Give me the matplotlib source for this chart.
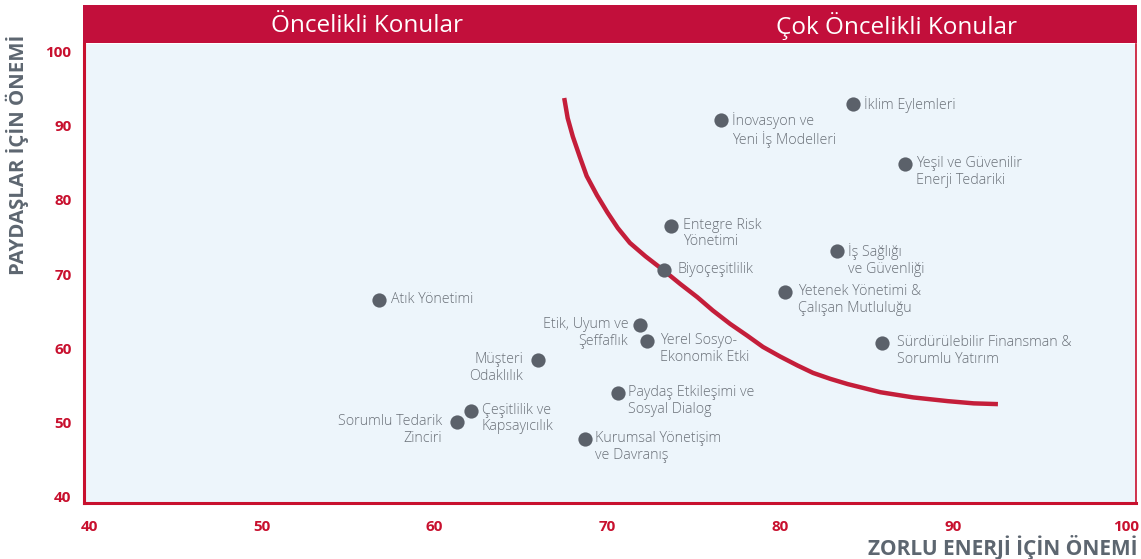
import matplotlib.pyplot as plt

# topics: x = importance for Zorlu Enerji, y = importance for stakeholders
topics = ['İklim Eylemleri', 'İnovasyon ve\nYeni İş Modelleri', 'Yeşil ve Güvenilir\nEnerji Tedariki',
          'Entegre Risk\nYönetimi', 'İş Sağlığı\nve Güvenliği', 'Biyoçeşitlilik',
          'Yetenek Yönetimi &\nÇalışan Mutluluğu', 'Atık Yönetimi', 'Etik, Uyum ve\nŞeffaflık',
          'Yerel Sosyo-\nEkonomik Etki', 'Sürdürülebilir Finansman &\nSorumlu Yatırım',
          'Müşteri\nOdaklılık', 'Paydaş Etkileşimi ve\nSosyal Dialog', 'Çeşitlilik ve\nKapsayıcılık',
          'Sorumlu Tedarik\nZinciri', 'Kurumsal Yönetişim\nve Davranış']
zorlu = [84.2, 76.6, 87.2, 73.7, 83.3, 73.3, 80.3, 56.8, 71.9, 72.3, 85.9, 66.0, 70.6, 62.1, 61.3, 68.7]
paydas = [92.9, 90.7, 84.8, 76.5, 73.1, 70.6, 67.6, 66.5, 63.1, 61.0, 60.7, 58.4, 54.0, 51.6, 50.1, 47.8]

# threshold curve
curve_x = [67.5, 67.7, 68.0, 68.4, 68.8, 69.4, 70.0, 70.6, 71.3, 72.2, 73.2, 74.2, 75.2, 76.1,
           77.1, 78.1, 79.0, 80.0, 81.0, 81.9, 82.9, 83.9, 85.8, 87.7, 89.7, 91.2, 92.6]
curve_y = [93.7, 91.0, 88.5, 85.8, 83.2, 80.6, 78.3, 76.2, 74.2, 72.4, 70.6, 68.7, 66.9, 65.1,
           63.3, 61.7, 60.2, 58.9, 57.7, 56.7, 55.9, 55.2, 54.1, 53.4, 52.9, 52.6, 52.5]

ticks = [40, 50, 60, 70, 80, 90, 100]
headers = ['Öncelikli Konular', 'Çok Öncelikli Konular']

# label offsets in pixels (dx, ha)
label_pos = [(11, 'left'), (11, 'left'), (11, 'left'), (12, 'left'), (11, 'left'), (13, 'left'),
             (13, 'left'), (12, 'left'), (-12, 'right'), (13, 'left'), (15, 'left'),
             (-15, 'right'), (10, 'left'), (11, 'left'), (-15, 'right'), (10, 'left')]

red = '#c8102e'
dark = '#5b616a'
fam = ['Open Sans', 'DejaVu Sans']

fig = plt.figure(figsize=(11.41, 5.59), dpi=100)
W, H = 1141, 559
ax = fig.add_axes([84 / W, 56 / H, 1052 / W, 459 / H])
ax.set_facecolor('#edf5fb')
ax.set_xlim(39.71, 100.59)
ax.set_ylim(39.19, 100.97)

ax.plot(curve_x, curve_y, color='#c41e3a', lw=3.2, solid_capstyle='butt',
        solid_joinstyle='round', zorder=2)
ax.scatter(zorlu, paydas, s=105, color=dark, zorder=3, linewidths=0)

for name, x, y, (dx, ha) in zip(topics, zorlu, paydas, label_pos):
    ax.annotate(name, (x, y), xytext=(dx, 8), textcoords='offset pixels',
                ha=ha, va='top', multialignment=ha,
                fontsize=10.3, color='#6a7078', family=fam, fontweight='light',
                linespacing=1.15, zorder=4)

ax.set_xticks(ticks)
ax.set_yticks(ticks)
ax.tick_params(length=0, colors=red, labelsize=11)
ax.tick_params(axis='x', pad=12)
ax.tick_params(axis='y', pad=9)
for lab in ax.get_xticklabels() + ax.get_yticklabels():
    lab.set_fontweight('bold')
    lab.set_family(fam)

for side in ['left', 'bottom']:
    ax.spines[side].set_color(red)
    ax.spines[side].set_linewidth(2.2)
ax.spines['right'].set_color(red)
ax.spines['right'].set_linewidth(1.2)
ax.spines['top'].set_visible(False)

# header band
hax = fig.add_axes([83 / W, (H - 43) / H, 1054 / W, 38 / H])
hax.set_facecolor('#c20f3b')
hax.set_xticks([])
hax.set_yticks([])
for s in hax.spines.values():
    s.set_visible(False)
hax.set_xlim(0, 1054)
hax.set_ylim(0, 1)
hax.text(367 - 83, 0.45, headers[0], ha='center', va='center', color='white', fontsize=17.5,
         family=fam, fontweight='medium')
hax.text(897 - 83, 0.45, headers[1], ha='center', va='center', color='white', fontsize=17.5,
         family=fam, fontweight='medium')

fig.text(1137 / W, 1 - 548 / H, 'ZORLU ENERJİ İÇİN ÖNEMİ', ha='right', va='center',
         fontsize=15, fontweight='bold', color='#5d6670', family=fam)
fig.text(17 / W, 1 - 35 / H, 'PAYDAŞLAR İÇİN ÖNEMİ', ha='center', va='top', rotation=90,
         fontsize=14.7, fontweight='bold', color='#5d6670', family=fam)

fig.savefig('out.png', dpi=100)
